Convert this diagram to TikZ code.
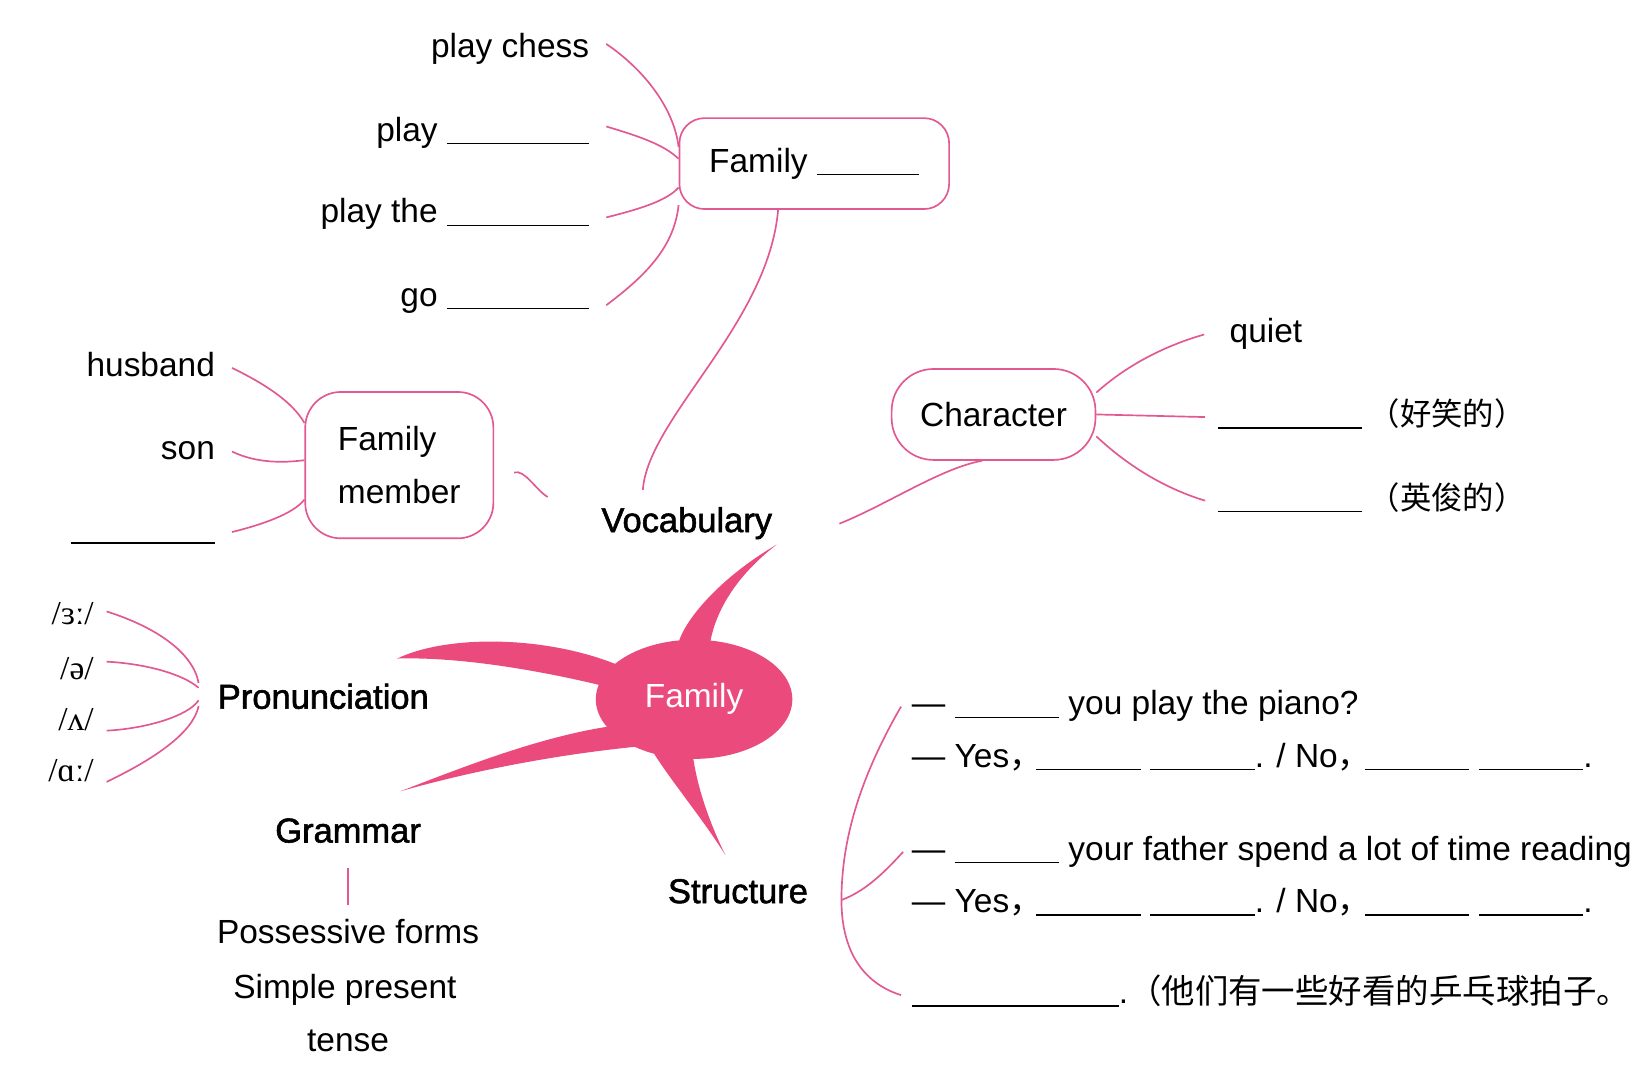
\documentclass[tikz,border=0pt]{standalone}
\usepackage{fontspec}
\setmainfont{Liberation Sans}
\newfontfamily\cjk{Noto Sans CJK SC}
\newfontfamily\ipafont{Liberation Serif}
\newfontfamily\topicfont[FakeBold=1.6]{Liberation Sans}
\usepackage{tikz}
\usetikzlibrary{shapes.geometric}
\definecolor{linkpink}{RGB}{226,88,146}
\definecolor{blobpink}{RGB}{234,74,124}
\newcommand{\answerline}[1]{\rule[-1.5pt]{#1}{0.6pt}}
\newcommand{\cjkcomma}{{\cjk ，}\kern-3pt}
\tikzstyle{link} = [draw=linkpink, line width=0.8pt]
\tikzstyle{tentacle} = [fill=blobpink]
\tikzstyle{leaf} = [font=\fontsize{16}{19}\selectfont, inner xsep=8pt, inner ysep=2pt, text height=11.5pt, text depth=3.5pt]
\tikzstyle{ipa} = [font=\ipafont\fontsize{16}{19}\selectfont, inner xsep=6pt, inner ysep=2pt, text height=11.5pt, text depth=3.5pt, anchor=base east]
\tikzstyle{topic} = [font=\topicfont\fontsize{16.5}{19}\selectfont, inner sep=4pt, text height=11.5pt, text depth=3.5pt]
\tikzstyle{pinkbox} = [draw=linkpink, line width=0.8pt, font=\fontsize{16}{19}\selectfont]
\tikzstyle{answer} = [font=\fontsize{16}{19}\selectfont, anchor=base west, inner sep=0pt, text height=11.5pt, text depth=3.5pt]

\begin{document}
\begin{tikzpicture}[x=0.5pt, y=-0.5pt]
\useasboundingbox (0,0) rectangle (1568,1033);

% hobbies
\node[leaf, anchor=base east] (chess) at (580,55) {play chess};
\node[leaf, anchor=base east] (playx) at (580,135) {play \answerline{68pt}};
\node[leaf, anchor=base east] (playthe) at (580,213) {play the \answerline{68pt}};
\node[leaf, anchor=base east] (gox) at (580,293) {go \answerline{68pt}};
\node[pinkbox, rounded corners=12pt, minimum width=129pt, minimum height=43.5pt] (famhobby) at (779,156.5) {Family \answerline{49pt}};

\draw[link] ([yshift=2.5pt]chess.east) .. controls (618,68) and (645,105) .. (famhobby.173);
\draw[link] ([yshift=3pt]playx.east) .. controls (610,130) and (635,138) .. (famhobby.178);
\draw[link] ([yshift=-1.5pt]playthe.east) .. controls (612,200) and (638,192) .. (famhobby.190);
\draw[link] ([yshift=-3.5pt]gox.east) .. controls (620,262) and (645,235) .. (famhobby.197);

% family members
\node[leaf, anchor=base east] (husband) at (222,360) {husband};
\node[leaf, anchor=base east] (son) at (222,440) {son};
\node[leaf, anchor=base east] (memblank) at (222,517) {\answerline{69pt}};
\node[pinkbox, rounded corners=17pt, minimum width=90pt, minimum height=70pt, align=left, font=\fontsize{16}{25}\selectfont] (member) at (382,445) {Family\\member};

\draw[link] (husband.east) .. controls (255,368) and (280,385) .. (member.156);
\draw[link] (son.east) .. controls (245,443) and (270,443) .. (member.177);
\draw[link] (memblank.east) .. controls (250,502) and (280,492) .. (member.200);

% vocabulary
\node[topic, anchor=base] (voc) at (657,509) {Vocabulary};
\draw[link] (famhobby.-128) .. controls (735,310) and (620,400) .. ([xshift=-21pt,yshift=4.5pt]voc.north);
\draw[link] ([xshift=9.5pt,yshift=-3.5pt]member.east) .. controls (502,449) and (512,468) .. ([xshift=-21.5pt,yshift=12.75pt]voc.west);

% character
\node[pinkbox, rounded corners=20pt, minimum width=97.5pt, minimum height=43.5pt] (charbox) at (950.5,396.5) {Character};
\node[leaf, anchor=base west, inner xsep=12pt] (quiet) at (1152,328) {quiet};
\node[leaf, anchor=base west, inner xsep=6pt] (funny) at (1153,407) {\answerline{69pt}\hspace{3pt}{\cjk\fontsize{15}{17}\selectfont （好笑的）}};
\node[leaf, anchor=base west, inner xsep=6pt] (handsome) at (1153,487) {\answerline{69pt}\hspace{3pt}{\cjk\fontsize{15}{17}\selectfont （英俊的）}};

\draw[link] ([xshift=28pt]voc.east) .. controls (850,482) and (900,448) .. (charbox.-104);
\draw[link] (charbox.12) .. controls (1075,352) and (1110,332) .. (quiet.west);
\draw[link] (charbox.east) -- (funny.west);
\draw[link] (charbox.-12) .. controls (1075,442) and (1110,466) .. (handsome.west);

% central blob
\fill[tentacle] (650,625) -- (650,612) .. controls (658,590) and (690,552) .. (743,521) .. controls (712,545) and (682,580) .. (678,625) -- cycle;
\fill[tentacle] (380,630) .. controls (430,606) and (530,608) .. (600,640) -- (600,662) .. controls (540,646) and (450,628) .. (380,630) -- cycle;
\fill[tentacle] (383,757) .. controls (440,735) and (520,703) .. (590,694) -- (612,714) .. controls (530,722) and (450,738) .. (383,757) -- cycle;
\fill[tentacle] (622,715) .. controls (640,745) and (670,780) .. (694,818) .. controls (680,790) and (665,750) .. (662,715) -- cycle;
\node[ellipse, fill=blobpink, minimum width=94pt, minimum height=57pt, inner sep=0pt, text=white, font=\fontsize{16}{19}\selectfont] (hub) at (664,669) {Family};

% pronunciation
\node[topic, anchor=base west, inner xsep=9pt] (pron) at (190,678) {Pronunciation};
\node[ipa] (ipa1) at (102,597) {/ɜː/};
\node[ipa] (ipa2) at (102,650) {/ə/};
\node[ipa] (ipa3) at (102,699) {/ʌ/};
\node[ipa] (ipa4) at (102,748) {/ɑː/};

\draw[link] ([yshift=2pt]ipa1.east) .. controls (150,600) and (185,625) .. ([yshift=8.25pt]pron.west);
\draw[link] ([yshift=4.5pt]ipa2.east) .. controls (140,635) and (175,645) .. ([yshift=6pt]pron.west);
\draw[link] ([yshift=-4pt]ipa3.east) .. controls (140,697) and (180,685) .. (pron.west);
\draw[link] ([yshift=-4pt]ipa4.east) .. controls (150,725) and (185,700) .. ([yshift=-2.75pt]pron.west);

% grammar
\node[topic, anchor=base] (gram) at (333,806) {Grammar};
\node[leaf, anchor=base] (possessive) at (333,903) {Possessive forms};
\node[leaf, anchor=base] (simple) at (330,955) {Simple present};
\node[leaf, anchor=base] (tense) at (333,1006) {tense};
\draw[link, shorten <=4.5pt, shorten >=5pt] (gram.south) -- (possessive.north);

% structure
\node[topic, anchor=base] (struct) at (706,864) {Structure};
\node[answer] (q1) at (872,684) {— \answerline{50pt} you play the piano?};
\node[answer] (a1) at (872,734) {— Yes\cjkcomma\answerline{50pt} \answerline{50pt}. / No\cjkcomma\answerline{50pt} \answerline{50pt}.};
\node[answer] (q2) at (872,823) {— \answerline{50pt} your father spend a lot of time reading};
\node[answer] (a2) at (872,873) {— Yes\cjkcomma\answerline{50pt} \answerline{50pt}. / No\cjkcomma\answerline{50pt} \answerline{50pt}.};
\node[answer] (s5) at (872,960) {\answerline{99pt}.{\cjk （他们有一些好看的乒乓球拍子。}};

\coordinate (brk) at (805,861);
\draw[link] ([xshift=-5pt]q1.west) .. controls (825,740) and (805,800) .. (brk) .. controls (805,915) and (830,942) .. ([xshift=-5pt]s5.west);
\draw[link] (brk) .. controls (830,852) and (850,830) .. ([xshift=-4pt]q2.west);

\end{tikzpicture}
\end{document}
